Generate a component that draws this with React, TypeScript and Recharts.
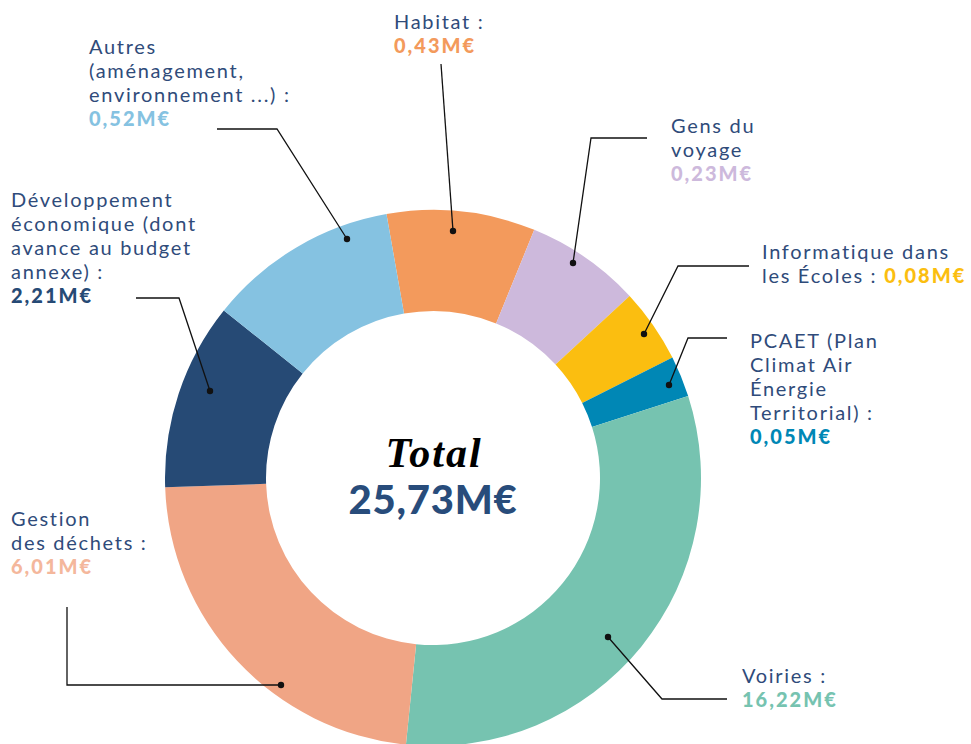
import { Cell, Pie, PieChart } from "recharts";

// slices in clockwise order from the top
const categories = [
  "Habitat",
  "Gens du voyage",
  "Informatique dans les Écoles",
  "PCAET",
  "Voiries",
  "Gestion des déchets",
  "Développement économique",
  "Autres",
];
const amounts = [0.43, 0.23, 0.08, 0.05, 16.22, 6.01, 2.21, 0.52];
// arc sizes (degrees) as drawn in the original, not proportional to amounts
const arcShares = [32.2, 25.0, 16.1, 8.9, 113.6, 82.2, 40.7, 41.3];
const total = 25.73;

const labelLines = [
  ["Habitat :"],
  ["Gens du", "voyage"],
  ["Informatique dans", "les Écoles : "],
  ["PCAET (Plan", "Climat Air", "Énergie", "Territorial) :"],
  ["Voiries :"],
  ["Gestion", "des déchets :"],
  ["Développement", "économique (dont", "avance au budget", "annexe) :"],
  ["Autres", "(aménagement,", "environnement ...) :"],
];

const colors = ["#F39A5C", "#CDB9DC", "#FBBE10", "#0087B5", "#76C3B0", "#F0A585", "#264A75", "#85C2E1"];
const valueColors = ["#F39A5C", "#CDB9DC", "#FBBE10", "#0087B5", "#76C3B0", "#F4B79C", "#264A75", "#85C2E1"];

// leader line points and text anchor, offsets from the pie centre
const callouts = [
  { pts: [[8, -414], [20, -247]], tx: -39, ty: -449 },
  { pts: [[214, -340], [158, -340], [140, -215]], tx: 238, ty: -345 },
  { pts: [[316, -212], [245, -212], [211, -144]], tx: 329, ty: -219, inline: true },
  { pts: [[294, -140], [255, -140], [236, -93]], tx: 317, ty: -130 },
  { pts: [[294, 221], [229, 221], [175, 159]], tx: 309, ty: 205 },
  { pts: [[-366, 129], [-366, 207], [-152, 207]], tx: -422, ty: 48 },
  { pts: [[-297, -180], [-254, -180], [-223, -87]], tx: -422, ty: -271 },
  { pts: [[-216, -349], [-156, -349], [-86, -239]], tx: -344, ty: -424 },
];

const TEXT = "#2F4B7A";
const FONT = "Lato, 'Open Sans', sans-serif";
const LINE = 24;

const fmt = (v: number) => v.toFixed(2).replace(".", ",") + "M€";

const data = categories.map((name, i) => ({ name, share: arcShares[i], amount: amounts[i] }));

function Callout(props: any) {
  const { cx, cy, index } = props;
  const c = callouts[index];
  const lines = labelLines[index];
  const pts = c.pts.map(([x, y]) => `${cx + x},${cy + y}`).join(" ");
  const dot = c.pts[c.pts.length - 1];
  const x = cx + c.tx;
  return (
    <g>
      <polyline points={pts} fill="none" stroke="#111" strokeWidth={1.3} />
      <circle cx={cx + dot[0]} cy={cy + dot[1]} r={3.2} fill="#111" />
      <text x={x} y={cy + c.ty} fontFamily={FONT} fontSize={20} letterSpacing={1.7} fill={TEXT}>
        {lines.map((l, i) => (
          <tspan key={i} x={x} dy={i === 0 ? 0 : LINE}>
            {l}
          </tspan>
        ))}
        {c.inline ? (
          <tspan fontWeight={900} letterSpacing={2} fill={valueColors[index]}>
            {fmt(amounts[index])}
          </tspan>
        ) : (
          <tspan x={x} dy={LINE} fontWeight={900} letterSpacing={2} fill={valueColors[index]}>
            {fmt(amounts[index])}
          </tspan>
        )}
      </text>
    </g>
  );
}

export default function App() {
  return (
    <div style={{ position: "absolute", left: 0, top: 0, width: 971, height: 744, background: "#fff" }}>
      <PieChart width={971} height={744} margin={{ top: 0, right: 0, bottom: 0, left: 0 }}>
        <Pie
          data={data}
          dataKey="share"
          nameKey="name"
          cx={433}
          cy={478}
          innerRadius={167}
          outerRadius={268}
          startAngle={100}
          endAngle={-260}
          stroke="none"
          label={Callout}
          labelLine={false}
          isAnimationActive={false}
        >
          {data.map((d, i) => (
            <Cell key={d.name} fill={colors[i]} />
          ))}
        </Pie>
        <text x={434} y={467} textAnchor="middle" fontFamily="'Liberation Serif', serif" fontStyle="italic" fontWeight={700} fontSize={42} letterSpacing={2} fill="#000">
          Total
        </text>
        <text x={433} y={514} textAnchor="middle" fontFamily={FONT} fontWeight={900} fontSize={40} letterSpacing={0.8} fill="#284C7B">
          {fmt(total)}
        </text>
      </PieChart>
    </div>
  );
}
